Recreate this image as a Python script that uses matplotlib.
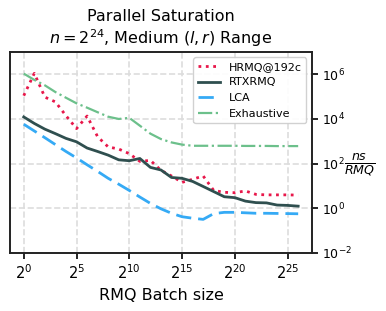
import numpy as np
import matplotlib
matplotlib.use("Agg")
import matplotlib.pyplot as plt
from matplotlib.ticker import FixedLocator, NullLocator, LogFormatterSciNotation

# ==================== DATA (ns per RMQ) ====================
batch_exp = list(range(27))  # batch size = 2**k

hrmq = [1.1e5, 1.1e6, 9.5e4, 5.8e4, 1.4e4, 3.7e3, 1.35e4, 1.6e3, 5.6e2, 4.5e2,
        2.8e2, 1.26e2, 1.4e2, 5.0e1, 2.8e1, 1.45e1, 2.0e1, 2.8e1, 6.3, 5.2,
        5.0, 6.0, 4.2, 4.0, 4.0, 4.0, 3.9]
rtxrmq = [1.23e4, 6.3e3, 3.5e3, 2.2e3, 1.35e3, 9.5e2, 5.0e2, 3.5e2, 2.4e2, 1.48e2,
          1.35e2, 1.7e2, 6.8e1, 5.2e1, 2.4e1, 2.2e1, 1.6e1, 9.5, 5.6, 3.3,
          3.0, 2.1, 1.8, 1.75, 1.4, 1.35, 1.25]
lca = [5.8e3, 2.9e3, 1.45e3, 7.1e2, 3.5e2, 1.8e2, 8.9e1, 4.5e1, 2.2e1, 1.2e1,
       6.3, 3.2, 1.66, 0.95, 0.6, 0.42, 0.36, 0.32, 0.58, 0.66,
       0.66, 0.63, 0.6, 0.6, 0.59, 0.58, 0.57]
exhaustive = [1.07e6, 5.6e5, 3.2e5, 1.6e5, 8.9e4, 5.0e4, 3.2e4, 2.0e4, 1.26e4, 1.0e4,
              1.12e4, 5.0e3, 2.2e3, 1.26e3, 8.9e2, 7.1e2, 6.3e2, 6.3e2, 6.3e2, 6.3e2,
              6.3e2, 6.2e2, 6.2e2, 6.2e2, 6.1e2, 6.1e2, 6.1e2]

x_ticks = [2**k for k in range(0, 26, 5)]
y_ticks = [1e-2, 1e0, 1e2, 1e4, 1e6]

# ==================== PLOT ====================
fig = plt.figure(figsize=(3.86, 3.11), dpi=100)
ax = fig.add_axes([0.026, 0.1865, 0.782, 0.6465])

xs = [2**k for k in batch_exp]
ax.plot(xs, hrmq, color="#e8174a", linestyle=":", linewidth=2.0, label="HRMQ@192c")
ax.plot(xs, rtxrmq, color="#2f4f4f", linestyle="-", linewidth=2.0, label="RTXRMQ")
ax.plot(xs, lca, color="#35aaf5", linestyle=(0, (5.5, 2.5)), linewidth=2.0, label="LCA")
ax.plot(xs, exhaustive, color="#6cc08b", linestyle="-.", linewidth=1.6, label="Exhaustive")

ax.set_xscale("log", base=2)
ax.set_yscale("log")
ax.set_ylim(1e-2, 1e7)
ax.xaxis.set_major_locator(FixedLocator(x_ticks))
ax.xaxis.set_major_formatter(LogFormatterSciNotation(base=2))
ax.xaxis.set_minor_locator(NullLocator())
ax.yaxis.set_major_locator(FixedLocator(y_ticks))
ax.yaxis.set_minor_locator(NullLocator())
ax.yaxis.tick_right()
ax.tick_params(axis="x", labelsize=10.5, width=1.2, length=4)
ax.tick_params(axis="y", labelsize=9, width=1.2, length=4)

for s in ax.spines.values():
    s.set_linewidth(1.4)
    s.set_color("#222222")

ax.grid(True, color="#dddddd", linestyle="--", linewidth=1.2)
ax.set_axisbelow(True)

ax.set_title("Parallel Saturation\n$n = 2^{24}$, Medium $(l, r)$ Range", fontsize=11.5)
ax.set_xlabel("RMQ Batch size", fontsize=11.5)
ax.yaxis.set_label_position("right")
ax.set_ylabel(r"$\frac{ns}{RMQ}$", rotation=0, fontsize=13, va="center", ha="left")
ax.yaxis.set_label_coords(1.105, 0.435)

ax.legend(loc="upper right", fontsize=8, handlelength=2.0, framealpha=0.9)

fig.savefig("out.png", dpi=100)
